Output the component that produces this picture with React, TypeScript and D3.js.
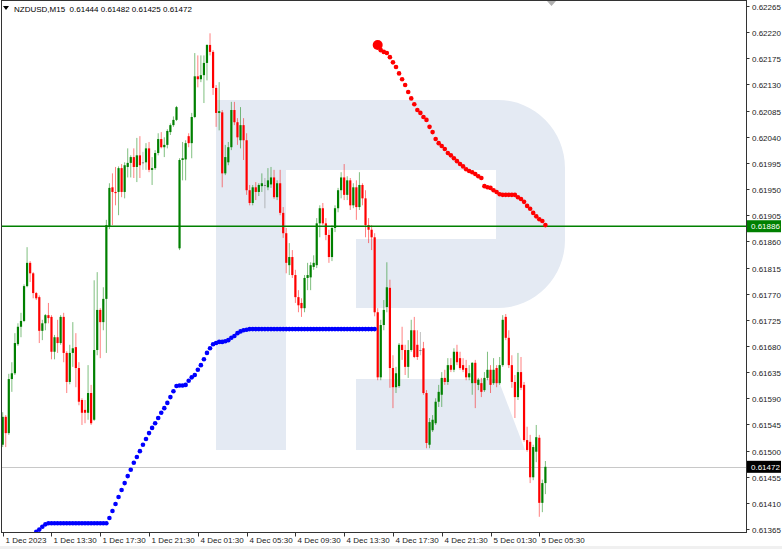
import React, { useEffect, useRef } from 'react';
import { select, scaleLinear } from 'd3';

// chart header
const symbol = 'NZDUSD,M15';
const lastQuote = [0.61444, 0.61482, 0.61425, 0.61472];

// M15 bars, [open, high, low, close]
const candles: [number, number, number, number][] = [
  [0.61510, 0.61566, 0.61506, 0.61558], [0.61558, 0.61561, 0.61506, 0.61530], [0.61530, 0.61632, 0.61527, 0.61623],
  [0.61623, 0.61652, 0.61601, 0.61633], [0.61633, 0.61702, 0.61630, 0.61685], [0.61683, 0.61719, 0.61680, 0.61713],
  [0.61713, 0.61737, 0.61695, 0.61723], [0.61723, 0.61786, 0.61721, 0.61783], [0.61783, 0.61850, 0.61781, 0.61823],
  [0.61823, 0.61826, 0.61790, 0.61805], [0.61805, 0.61807, 0.61762, 0.61771], [0.61771, 0.61773, 0.61759, 0.61762],
  [0.61764, 0.61767, 0.61685, 0.61706], [0.61706, 0.61725, 0.61690, 0.61719], [0.61719, 0.61735, 0.61707, 0.61733],
  [0.61733, 0.61754, 0.61719, 0.61728], [0.61730, 0.61733, 0.61657, 0.61670], [0.61670, 0.61699, 0.61657, 0.61695],
  [0.61695, 0.61725, 0.61668, 0.61685], [0.61685, 0.61733, 0.61682, 0.61730], [0.61730, 0.61737, 0.61652, 0.61668],
  [0.61668, 0.61671, 0.61599, 0.61618], [0.61618, 0.61682, 0.61614, 0.61668], [0.61668, 0.61721, 0.61644, 0.61676],
  [0.61678, 0.61702, 0.61609, 0.61642], [0.61642, 0.61652, 0.61578, 0.61584], [0.61587, 0.61590, 0.61544, 0.61565],
  [0.61570, 0.61587, 0.61547, 0.61565], [0.61565, 0.61647, 0.61553, 0.61599], [0.61599, 0.61613, 0.61544, 0.61547],
  [0.61553, 0.61793, 0.61551, 0.61673], [0.61673, 0.61807, 0.61664, 0.61742], [0.61742, 0.61745, 0.61659, 0.61721],
  [0.61721, 0.61781, 0.61707, 0.61761], [0.61761, 0.61897, 0.61668, 0.61888], [0.61885, 0.61960, 0.61881, 0.61952],
  [0.61953, 0.61977, 0.61888, 0.61945], [0.61945, 0.61988, 0.61922, 0.61943], [0.61945, 0.61989, 0.61905, 0.61986],
  [0.61986, 0.61993, 0.61936, 0.61945], [0.61945, 0.61996, 0.61934, 0.61991], [0.61988, 0.62020, 0.61970, 0.61995],
  [0.61995, 0.62008, 0.61970, 0.62005], [0.62005, 0.62020, 0.61969, 0.61988], [0.61988, 0.62038, 0.61962, 0.62008],
  [0.62008, 0.62041, 0.61969, 0.61991], [0.61996, 0.62014, 0.61983, 0.61996], [0.61996, 0.62029, 0.61983, 0.62020],
  [0.62020, 0.62031, 0.61979, 0.61983], [0.61983, 0.62005, 0.61957, 0.61986], [0.61986, 0.62017, 0.61983, 0.62012],
  [0.62012, 0.62046, 0.62008, 0.62036], [0.62036, 0.62048, 0.62020, 0.62022], [0.62022, 0.62039, 0.62005, 0.62026],
  [0.62026, 0.62053, 0.62020, 0.62050], [0.62048, 0.62063, 0.62043, 0.62060], [0.62060, 0.62075, 0.62057, 0.62069],
  [0.62069, 0.62093, 0.62067, 0.62091], [0.61848, 0.62003, 0.61845, 0.62000], [0.62000, 0.62031, 0.61965, 0.62003],
  [0.62001, 0.62034, 0.61965, 0.62029], [0.62041, 0.62046, 0.62022, 0.62029], [0.62029, 0.62081, 0.62003, 0.62074],
  [0.62074, 0.62184, 0.62072, 0.62144], [0.62144, 0.62180, 0.62125, 0.62139], [0.62139, 0.62180, 0.62134, 0.62146],
  [0.62146, 0.62180, 0.62098, 0.62167], [0.62167, 0.62199, 0.62137, 0.62198], [0.62198, 0.62218, 0.62180, 0.62186],
  [0.62186, 0.62189, 0.62112, 0.62124], [0.62124, 0.62129, 0.62057, 0.62081], [0.62081, 0.62134, 0.62051, 0.62084],
  [0.62082, 0.62086, 0.61953, 0.61977], [0.61977, 0.62026, 0.61974, 0.62005], [0.61996, 0.62031, 0.61991, 0.62022],
  [0.62022, 0.62100, 0.62017, 0.62086], [0.62086, 0.62100, 0.62060, 0.62065], [0.62065, 0.62072, 0.62026, 0.62039],
  [0.62034, 0.62091, 0.62020, 0.62060], [0.62060, 0.62072, 0.62000, 0.62034], [0.62034, 0.62046, 0.61940, 0.61948],
  [0.61948, 0.61957, 0.61922, 0.61926], [0.61926, 0.61957, 0.61922, 0.61953], [0.61953, 0.61962, 0.61931, 0.61945],
  [0.61945, 0.61960, 0.61938, 0.61957], [0.61955, 0.61977, 0.61945, 0.61960], [0.61957, 0.61969, 0.61917, 0.61957],
  [0.61953, 0.61986, 0.61948, 0.61965], [0.61958, 0.61988, 0.61952, 0.61970], [0.61970, 0.61983, 0.61933, 0.61936],
  [0.61936, 0.61965, 0.61931, 0.61960], [0.61960, 0.61983, 0.61905, 0.61909], [0.61909, 0.61919, 0.61866, 0.61874],
  [0.61874, 0.61883, 0.61805, 0.61823], [0.61819, 0.61857, 0.61802, 0.61833], [0.61833, 0.61845, 0.61797, 0.61802],
  [0.61802, 0.61811, 0.61754, 0.61764], [0.61764, 0.61776, 0.61738, 0.61750], [0.61754, 0.61762, 0.61730, 0.61745],
  [0.61745, 0.61802, 0.61738, 0.61797], [0.61797, 0.61823, 0.61776, 0.61802], [0.61798, 0.61824, 0.61776, 0.61819],
  [0.61816, 0.61836, 0.61811, 0.61823], [0.61819, 0.61900, 0.61814, 0.61891], [0.61891, 0.61922, 0.61867, 0.61917],
  [0.61917, 0.61926, 0.61888, 0.61891], [0.61891, 0.61900, 0.61862, 0.61871], [0.61871, 0.61880, 0.61823, 0.61833],
  [0.61833, 0.61888, 0.61826, 0.61883], [0.61883, 0.61922, 0.61876, 0.61917], [0.61917, 0.61952, 0.61910, 0.61948],
  [0.61948, 0.61979, 0.61934, 0.61970], [0.61970, 0.61993, 0.61931, 0.61940], [0.61940, 0.61972, 0.61931, 0.61965],
  [0.61965, 0.61969, 0.61914, 0.61922], [0.61922, 0.61960, 0.61917, 0.61953], [0.61953, 0.61965, 0.61897, 0.61919],
  [0.61919, 0.61979, 0.61914, 0.61957], [0.61957, 0.61960, 0.61922, 0.61934], [0.61934, 0.61948, 0.61867, 0.61888],
  [0.61888, 0.61900, 0.61857, 0.61880], [0.61880, 0.61888, 0.61845, 0.61867], [0.61867, 0.61874, 0.61731, 0.61738],
  [0.61738, 0.61745, 0.61621, 0.61626], [0.61626, 0.61725, 0.61621, 0.61716], [0.61716, 0.61759, 0.61707, 0.61742],
  [0.61747, 0.61824, 0.61738, 0.61781], [0.61780, 0.61794, 0.61608, 0.61642], [0.61642, 0.61664, 0.61573, 0.61609],
  [0.61609, 0.61644, 0.61599, 0.61633], [0.61611, 0.61685, 0.61608, 0.61682], [0.61682, 0.61713, 0.61656, 0.61673],
  [0.61673, 0.61682, 0.61630, 0.61644], [0.61644, 0.61690, 0.61625, 0.61673], [0.61673, 0.61725, 0.61670, 0.61707],
  [0.61707, 0.61730, 0.61659, 0.61661], [0.61682, 0.61707, 0.61656, 0.61661], [0.61673, 0.61704, 0.61664, 0.61673],
  [0.61676, 0.61687, 0.61596, 0.61599], [0.61599, 0.61604, 0.61504, 0.61513], [0.61510, 0.61556, 0.61504, 0.61549],
  [0.61535, 0.61561, 0.61532, 0.61553], [0.61547, 0.61590, 0.61544, 0.61584], [0.61584, 0.61613, 0.61575, 0.61601],
  [0.61596, 0.61635, 0.61575, 0.61625], [0.61625, 0.61639, 0.61613, 0.61618], [0.61618, 0.61659, 0.61613, 0.61647],
  [0.61647, 0.61659, 0.61635, 0.61639], [0.61639, 0.61676, 0.61635, 0.61670], [0.61670, 0.61682, 0.61647, 0.61652],
  [0.61659, 0.61670, 0.61639, 0.61642], [0.61647, 0.61659, 0.61635, 0.61639], [0.61642, 0.61656, 0.61621, 0.61626],
  [0.61626, 0.61647, 0.61621, 0.61633], [0.61616, 0.61652, 0.61596, 0.61651], [0.61651, 0.61656, 0.61573, 0.61616],
  [0.61613, 0.61625, 0.61604, 0.61622], [0.61616, 0.61625, 0.61592, 0.61601], [0.61604, 0.61635, 0.61601, 0.61625],
  [0.61625, 0.61670, 0.61621, 0.61639], [0.61639, 0.61647, 0.61599, 0.61613], [0.61616, 0.61659, 0.61613, 0.61639],
  [0.61642, 0.61647, 0.61609, 0.61616], [0.61616, 0.61661, 0.61613, 0.61647], [0.61647, 0.61733, 0.61644, 0.61725],
  [0.61730, 0.61735, 0.61690, 0.61694], [0.61694, 0.61707, 0.61642, 0.61647], [0.61647, 0.61664, 0.61608, 0.61618],
  [0.61618, 0.61630, 0.61556, 0.61592], [0.61592, 0.61668, 0.61587, 0.61635], [0.61635, 0.61661, 0.61604, 0.61608],
  [0.61613, 0.61618, 0.61515, 0.61518], [0.61518, 0.61541, 0.61498, 0.61501], [0.61515, 0.61527, 0.61444, 0.61454],
  [0.61454, 0.61510, 0.61449, 0.61506], [0.61498, 0.61544, 0.61480, 0.61523], [0.61522, 0.61527, 0.61386, 0.61410],
  [0.61410, 0.61450, 0.61394, 0.61444], [0.61444, 0.61482, 0.61425, 0.61472],
];

// blue dotted indicator (below price), first value at bar blueStart
const blueStart = 11;
const blueDots = [
  0.61360, 0.61364, 0.61369, 0.61373,
  0.61375, 0.61375, 0.61375, 0.61375, 0.61375, 0.61375, 0.61375, 0.61375, 0.61375, 0.61375,
  0.61375, 0.61375, 0.61375, 0.61375, 0.61375, 0.61375, 0.61375, 0.61375, 0.61375, 0.61375,
  0.61384, 0.61396, 0.61408, 0.61420, 0.61432, 0.61444, 0.61456, 0.61467, 0.61479, 0.61489,
  0.61499, 0.61510, 0.61520, 0.61530, 0.61539, 0.61547, 0.61556, 0.61565, 0.61573, 0.61582,
  0.61592, 0.61602, 0.61611, 0.61612, 0.61612, 0.61613, 0.61620, 0.61626, 0.61630, 0.61639,
  0.61647, 0.61657, 0.61668, 0.61676, 0.61683, 0.61685, 0.61687, 0.61687, 0.61688, 0.61690,
  0.61694, 0.61697, 0.61702, 0.61705, 0.61707, 0.61708,
  0.61709, 0.61709, 0.61709, 0.61709, 0.61709, 0.61709, 0.61709, 0.61709, 0.61709, 0.61709,
  0.61709, 0.61709, 0.61709, 0.61709, 0.61709, 0.61709, 0.61709, 0.61709, 0.61709, 0.61709,
  0.61709, 0.61709, 0.61709, 0.61709, 0.61709, 0.61709, 0.61709, 0.61709, 0.61709, 0.61709,
  0.61709, 0.61709, 0.61709, 0.61709, 0.61709, 0.61709, 0.61709, 0.61709, 0.61709, 0.61709,
  0.61709, 0.61709,
];

// red dotted indicator (above price), first value at bar redStart
const redStart = 123;
const redDots = [
  0.62198, 0.62189, 0.62186, 0.62184, 0.62177, 0.62168, 0.62160, 0.62149, 0.62139, 0.62129,
  0.62117, 0.62106, 0.62096, 0.62086, 0.62081, 0.62074, 0.62069, 0.62057, 0.62048, 0.62036,
  0.62029, 0.62024, 0.62019, 0.62012, 0.62008, 0.62003, 0.61998, 0.61993, 0.61989, 0.61984,
  0.61981, 0.61979, 0.61976, 0.61972, 0.61969, 0.61955, 0.61953, 0.61952, 0.61948, 0.61945,
  0.61941, 0.61940, 0.61940, 0.61940, 0.61940, 0.61940, 0.61936, 0.61933, 0.61928, 0.61921,
  0.61916, 0.61909, 0.61903, 0.61898, 0.61895, 0.61888,
];

const priceTicks = [
  0.62265, 0.62220, 0.62175, 0.62130, 0.62085, 0.62040, 0.61995, 0.61950, 0.61905, 0.61860, 0.61815,
  0.61770, 0.61725, 0.61680, 0.61635, 0.61590, 0.61545, 0.61500, 0.61455, 0.61410, 0.61365,
];
const timeTicks = [0, 16, 32, 48, 64, 80, 96, 112, 128, 144, 160, 176];
const timeLabels = [
  '1 Dec 2023', '1 Dec 13:30', '1 Dec 17:30', '1 Dec 21:30', '4 Dec 01:30', '4 Dec 05:30',
  '4 Dec 09:30', '4 Dec 13:30', '4 Dec 17:30', '4 Dec 21:30', '5 Dec 01:30', '5 Dec 05:30',
];
const levelPrice = 0.61886;
const bidPrice = 0.61472;

const W = 782;
const H = 549;
const FONT = 'Tahoma, "Liberation Sans", Arial, sans-serif';

export default function App() {
  const svgRef = useRef<SVGSVGElement>(null);

  useEffect(() => {
    document.body.style.margin = '0';
    if (!svgRef.current) return;
    const svg = select(svgRef.current);
    svg.html('');

    const plot = { left: 1.5, right: 746.5, top: 0.5, bottom: 532.5 };
    const x = scaleLinear().domain([0, candles.length - 1]).range([2.7, 545.4]);
    const y = scaleLinear().domain([0.61365, 0.62265]).range([529, 6]);
    const fmt = (v: number) => v.toFixed(5);

    svg.append('rect').attr('width', W).attr('height', H).attr('fill', '#fff');
    svg.append('rect').attr('x', 0).attr('y', 546).attr('width', W).attr('height', 3).attr('fill', '#f0f0f0');

    const defs = svg.append('defs');
    defs.append('clipPath').attr('id', 'plot-clip')
      .append('rect')
      .attr('x', plot.left).attr('y', plot.top)
      .attr('width', plot.right - plot.left).attr('height', plot.bottom - plot.top);

    const g = svg.append('g').attr('clip-path', 'url(#plot-clip)');

    // broker watermark
    g.append('path')
      .attr('fill', '#e4eaf3')
      .attr('fill-rule', 'evenodd')
      .attr('d', 'M216,100 H498 A67,68 0 0 1 565,168 V240 A67,68 0 0 1 498,308 H356 V450 H216 Z ' +
        'M286,170 H496 V239 H356 V450 H286 Z');
    g.append('path')
      .attr('fill', '#e4eaf3')
      .attr('d', 'M356,379 H498 L525,450 H356 Z');

    // bid line
    g.append('line')
      .attr('x1', plot.left).attr('x2', plot.right)
      .attr('y1', Math.round(y(bidPrice)) + 0.5).attr('y2', Math.round(y(bidPrice)) + 0.5)
      .attr('stroke', '#c8c8c8');

    const color = (d: [number, number, number, number]) =>
      d[3] > d[0] ? '#008000' : d[3] < d[0] ? '#ff0000' : '#808080';

    const bars = g.append('g');
    bars.selectAll('line')
      .data(candles)
      .enter()
      .append('line')
      .attr('x1', (_, i) => x(i)).attr('x2', (_, i) => x(i))
      .attr('y1', d => y(d[1])).attr('y2', d => y(d[2]))
      .attr('stroke', color)
      .attr('stroke-width', 1)
      .attr('stroke-opacity', 0.5);

    bars.selectAll('rect')
      .data(candles)
      .enter()
      .append('rect')
      .attr('x', (_, i) => x(i) - 1.1)
      .attr('width', 2.2)
      .attr('y', d => y(Math.max(d[0], d[3])))
      .attr('height', d => Math.max(1, Math.abs(y(d[0]) - y(d[3]))))
      .attr('fill', color);

    // horizontal level
    g.append('line')
      .attr('x1', plot.left).attr('x2', plot.right)
      .attr('y1', y(levelPrice)).attr('y2', y(levelPrice))
      .attr('stroke', '#008000')
      .attr('stroke-width', 1.4);

    g.append('g').selectAll('circle')
      .data(blueDots)
      .enter()
      .append('circle')
      .attr('cx', (_, i) => x(blueStart + i))
      .attr('cy', d => y(d))
      .attr('r', 2.3)
      .attr('fill', '#0000ff');

    g.append('g').selectAll('circle')
      .data(redDots)
      .enter()
      .append('circle')
      .attr('cx', (_, i) => x(redStart + i))
      .attr('cy', d => y(d))
      .attr('r', (_, i) => (i === 0 ? 5 : 2.3))
      .attr('fill', '#ff0000');

    // frame
    svg.append('rect')
      .attr('x', plot.left).attr('y', plot.top)
      .attr('width', plot.right - plot.left).attr('height', plot.bottom - plot.top)
      .attr('fill', 'none')
      .attr('stroke', '#333');

    // price axis
    const yAxis = svg.append('g').style('font-family', FONT).style('font-size', '8px');
    priceTicks.forEach(p => {
      const ty = Math.round(y(p)) + 0.5;
      yAxis.append('line').attr('x1', plot.right).attr('x2', plot.right + 3).attr('y1', ty).attr('y2', ty).attr('stroke', '#333');
      yAxis.append('text').attr('x', 752).attr('y', ty + 3).attr('fill', '#222').text(fmt(p));
    });

    // time axis
    const xAxis = svg.append('g').style('font-family', FONT).style('font-size', '8px');
    timeTicks.forEach((b, i) => {
      const tx = Math.round(x(b)) + 0.5;
      xAxis.append('line').attr('x1', tx).attr('x2', tx).attr('y1', plot.bottom).attr('y2', plot.bottom + 4).attr('stroke', '#333');
      xAxis.append('text').attr('x', tx + 2).attr('y', 543).attr('fill', '#222').text(timeLabels[i]);
    });

    // price labels for level and bid
    const tag = (p: number, bg: string) => {
      const ty = y(p);
      svg.append('rect').attr('x', 747).attr('y', ty - 6).attr('width', 34).attr('height', 12).attr('fill', bg);
      svg.append('text').attr('x', 751).attr('y', ty + 3)
        .style('font-family', FONT).style('font-size', '8px')
        .attr('fill', '#fff').text(fmt(p));
    };
    tag(levelPrice, '#008000');
    tag(bidPrice, '#000');

    // header
    svg.append('path').attr('d', 'M3,6 H9 L6,10 Z').attr('fill', '#000');
    svg.append('text').attr('x', 14).attr('y', 12)
      .style('font-family', FONT).style('font-size', '8px').style('white-space', 'pre')
      .attr('fill', '#000')
      .text(`${symbol}  ${lastQuote.map(fmt).join(' ')}`);

    // chart shift marker
    svg.append('path').attr('d', 'M547,1 H556 L551.5,6 Z').attr('fill', '#b0b0b0');
  }, []);

  return <svg ref={svgRef} width={W} height={H} style={{ display: 'block' }} />;
}
